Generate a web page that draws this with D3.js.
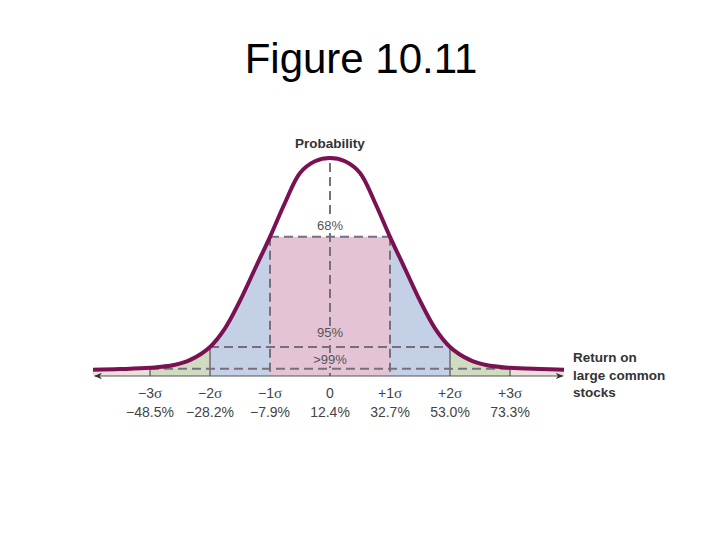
<!DOCTYPE html>
<html>
<head>
<meta charset="utf-8">
<script src="https://cdn.jsdelivr.net/npm/d3@7"></script>
<style>
  body { margin: 0; background: #fff; }
  svg { display: block; font-family: "Liberation Sans", Arial, sans-serif; }
</style>
</head>
<body>
<div id="chart-container" style="width:720px;height:540px"></div>
<script>
// values (x in sigma units, height relative to the peak)
let curveSigma   = [-3.95, -3.5, -3, -2.6, -2.33, -2, -1.75, -1.5, -1.25, -1, -0.75, -0.5, -0.25, 0,
                    0.25, 0.5, 0.75, 1, 1.25, 1.5, 1.75, 2, 2.33, 2.6, 3, 3.5, 3.9],
    curveDensity = [0.006, 0.009, 0.015, 0.028, 0.052, 0.113, 0.2, 0.33, 0.48, 0.63, 0.79, 0.93, 0.985, 1,
                    0.985, 0.93, 0.79, 0.63, 0.48, 0.33, 0.2, 0.113, 0.052, 0.028, 0.015, 0.009, 0.006];

let sigmaTicks   = [-3, -2, -1, 0, 1, 2, 3],
    sigmaSigns   = ["\u22123", "\u22122", "\u22121", "0", "+1", "+2", "+3"],
    returnLabels = ["\u221248.5%", "\u221228.2%", "\u22127.9%", "12.4%", "32.7%", "53.0%", "73.3%"];

let bandLabels = ["68%", "95%", ">99%"],
    bandSigma  = [1, 2, 3],
    bandLevel  = [0.63, 0.113, 0.01];

let axisTitle = ["Return on", "large common", "stocks"];

let svg = d3.select("#chart-container").append("svg").attr("width", 720).attr("height", 540),
    axisY = 376;

let x = d3.scaleLinear().domain([-4, 4]).range([90, 570]),
    y = d3.scaleLinear().domain([0, 1]).range([371, 158]);

let pts = curveSigma.map((s, i) => ({ s: s, d: curveDensity[i] }));

let area = d3.area()
    .curve(d3.curveCatmullRom.alpha(0.5))
    .x(p => x(p.s))
    .y0(axisY)
    .y1(p => y(p.d));

let line = d3.line()
    .curve(d3.curveCatmullRom.alpha(0.5))
    .x(p => x(p.s))
    .y(p => y(p.d));

svg.append("text")
    .attr("x", 361).attr("y", 73)
    .attr("text-anchor", "middle")
    .attr("font-size", 42)
    .attr("fill", "#000")
    .text("Figure 10.11");

// colored regions under the curve
let defs = svg.append("defs");
let regions = [
    { id: "tailL", a: -4.5, b: -3, c: "#ebe0da" },
    { id: "tailR", a: 3, b: 4.5, c: "#ebe0da" },
    { id: "g2L", a: -3, b: -2, c: "#cfdcc0" },
    { id: "g2R", a: 2, b: 3, c: "#cfdcc0" },
    { id: "b1L", a: -2, b: -1, c: "#c3d0e6" },
    { id: "b1R", a: 1, b: 2, c: "#c3d0e6" }
];
regions.forEach(r => {
    defs.append("clipPath").attr("id", "clip-" + r.id)
        .append("rect")
        .attr("x", x(r.a)).attr("y", 0)
        .attr("width", x(r.b) - x(r.a)).attr("height", 540);
    svg.append("path")
        .datum(pts)
        .attr("clip-path", `url(#clip-${r.id})`)
        .attr("fill", r.c)
        .attr("d", area);
});

// 68% block
let pink = "#e3c3d4";
svg.append("rect")
    .attr("x", x(-1)).attr("y", y(bandLevel[0]))
    .attr("width", x(1) - x(-1)).attr("height", axisY - y(bandLevel[0]))
    .attr("fill", pink);

let dash = "9,5", dashColor = "#77707c";

// horizontal band lines
bandSigma.forEach((s, i) => {
    svg.append("line")
        .attr("x1", x(-s)).attr("x2", x(s))
        .attr("y1", y(bandLevel[i])).attr("y2", y(bandLevel[i]))
        .attr("stroke", dashColor).attr("stroke-width", 2)
        .attr("stroke-dasharray", dash);
    [-s, s].forEach(v => {
        svg.append("line")
            .attr("x1", x(v)).attr("x2", x(v))
            .attr("y1", y(bandLevel[i])).attr("y2", axisY)
            .attr("stroke", i === 0 ? dashColor : "#5e5a62")
            .attr("stroke-width", i === 0 ? 2 : 1.3)
            .attr("stroke-dasharray", i === 0 ? dash : null);
    });
});

// center line
svg.append("line")
    .attr("x1", x(0)).attr("x2", x(0))
    .attr("y1", y(1) + 5).attr("y2", axisY)
    .attr("stroke", dashColor).attr("stroke-width", 2)
    .attr("stroke-dasharray", dash);

// axis with arrows
defs.append("marker")
    .attr("id", "arrow")
    .attr("viewBox", "0 0 10 10")
    .attr("refX", 9).attr("refY", 5)
    .attr("markerWidth", 8).attr("markerHeight", 8)
    .attr("markerUnits", "userSpaceOnUse")
    .attr("orient", "auto-start-reverse")
    .append("path").attr("d", "M0,1 L10,5 L0,9 L3,5 Z").attr("fill", "#333");

svg.append("line")
    .attr("x1", x(-3.92)).attr("x2", x(3.88))
    .attr("y1", axisY).attr("y2", axisY)
    .attr("stroke", "#555").attr("stroke-width", 1.2)
    .attr("marker-start", "url(#arrow)")
    .attr("marker-end", "url(#arrow)");

// the curve
svg.append("path")
    .datum(pts)
    .attr("fill", "none")
    .attr("stroke", "#7a1152")
    .attr("stroke-width", 4)
    .attr("d", line);

// band labels, each with a small backing so the center line breaks around it
let labelY = [230, 337, 364],
    labelBg = ["#fff", pink, pink];
bandLabels.forEach((t, i) => {
    let w = t.length * 8 + 4;
    svg.append("rect")
        .attr("x", x(0) - w / 2).attr("y", labelY[i] - 11)
        .attr("width", w).attr("height", 13)
        .attr("fill", labelBg[i]);
    svg.append("text")
        .attr("x", x(0)).attr("y", labelY[i])
        .attr("text-anchor", "middle")
        .attr("font-size", 13)
        .attr("fill", "#555")
        .text(t);
});

svg.append("text")
    .attr("x", x(0)).attr("y", 148)
    .attr("text-anchor", "middle")
    .attr("font-size", 13.5).attr("font-weight", "bold")
    .attr("fill", "#333")
    .text("Probability");

// tick labels
let tl = svg.append("g").attr("fill", "#444").attr("font-size", 14).attr("text-anchor", "middle");
sigmaTicks.forEach((s, i) => {
    let t = tl.append("text").attr("x", x(s)).attr("y", 398);
    t.append("tspan").text(sigmaSigns[i]);
    if (s !== 0) t.append("tspan").attr("font-family", "'Liberation Serif', serif").attr("font-size", 15).text("\u03c3");
    tl.append("text").attr("x", x(s)).attr("y", 417).text(returnLabels[i]);
});

// axis title
axisTitle.forEach((t, i) => {
    svg.append("text")
        .attr("x", 573).attr("y", 362 + i * 17.5)
        .attr("font-size", 13.5).attr("font-weight", "bold")
        .attr("fill", "#333")
        .text(t);
});
</script>
</body>
</html>
